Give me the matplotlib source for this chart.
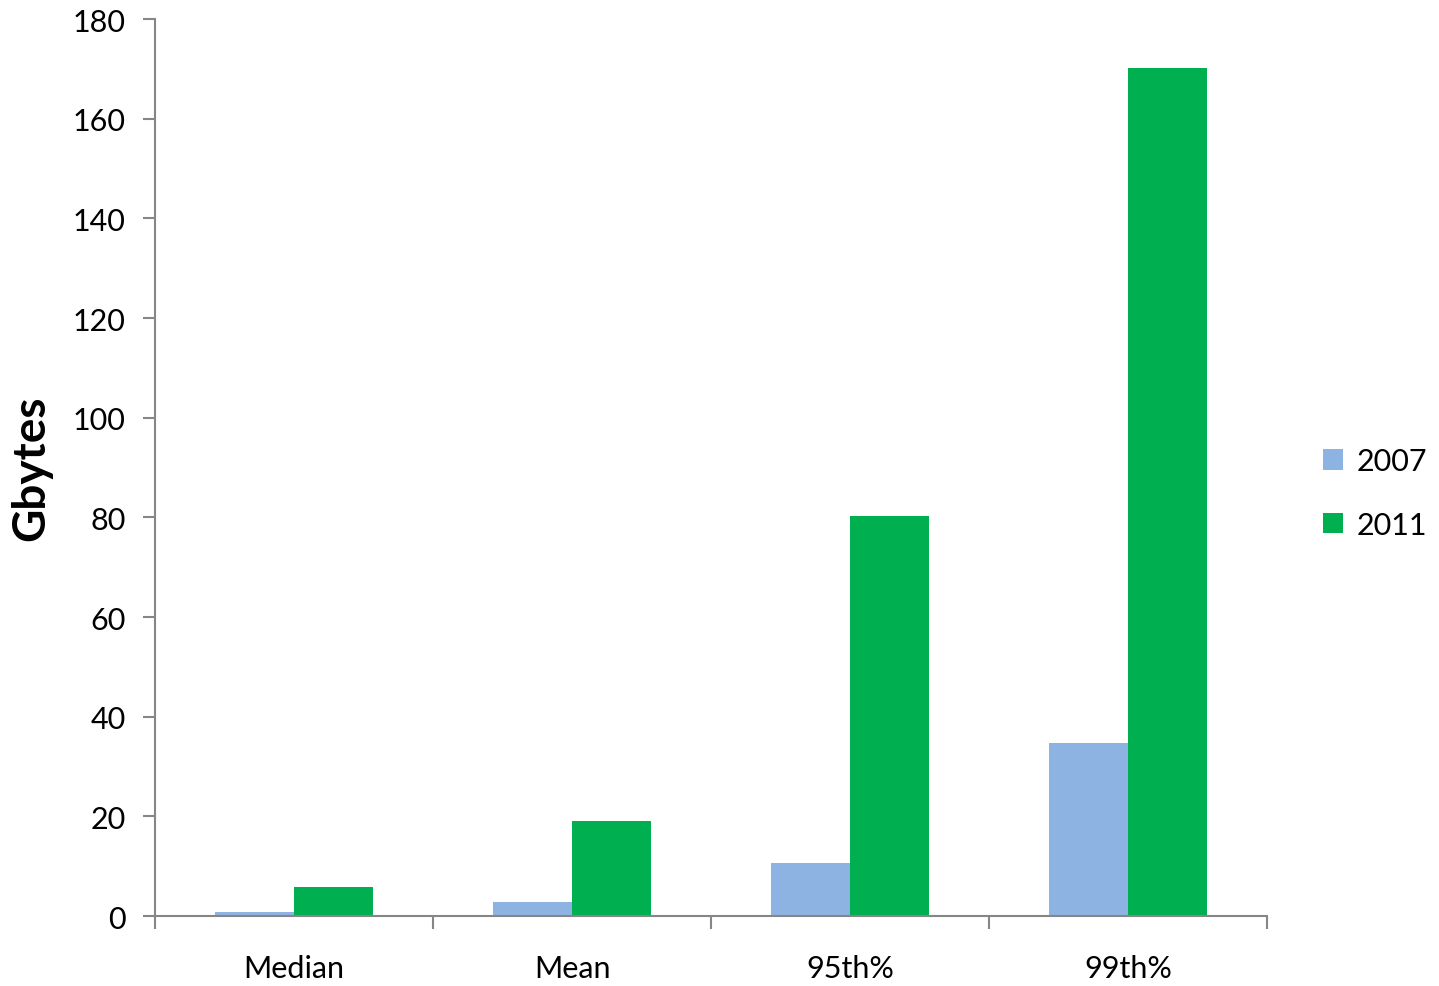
import matplotlib
matplotlib.use("Agg")
import matplotlib.pyplot as plt
import numpy as np

categories = ["Median", "Mean", "95th%", "99th%"]
series_names = ["2007", "2011"]
values_2007 = [0.8, 2.8, 10.7, 34.7]
values_2011 = [5.9, 19.0, 80.3, 170.2]
y_ticks = [0, 20, 40, 60, 80, 100, 120, 140, 160, 180]

colors = ["#8DB3E2", "#00B050"]
axis_gray = "#868686"

plt.rcParams["font.family"] = ["Lato", "DejaVu Sans"]

fig = plt.figure(figsize=(14.39, 9.87), dpi=100)
ax = fig.add_axes([0.1077, 0.0709, 0.7728, 0.9088])

x = np.arange(len(categories))
w = 1 / 3.5
ax.bar(x - w / 2, values_2007, width=w, color=colors[0], label=series_names[0], zorder=2)
ax.bar(x + w / 2, values_2011, width=w, color=colors[1], label=series_names[1], zorder=2)

ax.set_xlim(-0.5, len(categories) - 0.5)
ax.set_ylim(0, 180)
ax.set_yticks(y_ticks)
ax.set_yticklabels([str(t) for t in y_ticks], fontsize=22)

ax.set_xticks(x)
ax.set_xticklabels(categories, fontsize=22)
ax.set_xticks(np.arange(-0.5, len(categories)), minor=True)
ax.tick_params(axis="x", which="major", length=0, pad=27)
ax.tick_params(axis="x", which="minor", length=9, width=1.5, color=axis_gray, direction="out")
ax.tick_params(axis="y", length=9, width=1.5, color=axis_gray, direction="out", pad=12)

for s in ["top", "right"]:
    ax.spines[s].set_visible(False)
for s in ["left", "bottom"]:
    ax.spines[s].set_color(axis_gray)
    ax.spines[s].set_linewidth(1.5)

ax.set_ylabel("Gbytes", fontsize=33, fontweight="bold", labelpad=15)

leg = fig.legend(loc="center left", bbox_to_anchor=(0.9195, 0.4995), frameon=False,
                 fontsize=22, handlelength=0.65, handleheight=0.65, handletextpad=0.45,
                 labelspacing=1.15, borderpad=0, borderaxespad=0)

fig.savefig("out.png", dpi=100)
